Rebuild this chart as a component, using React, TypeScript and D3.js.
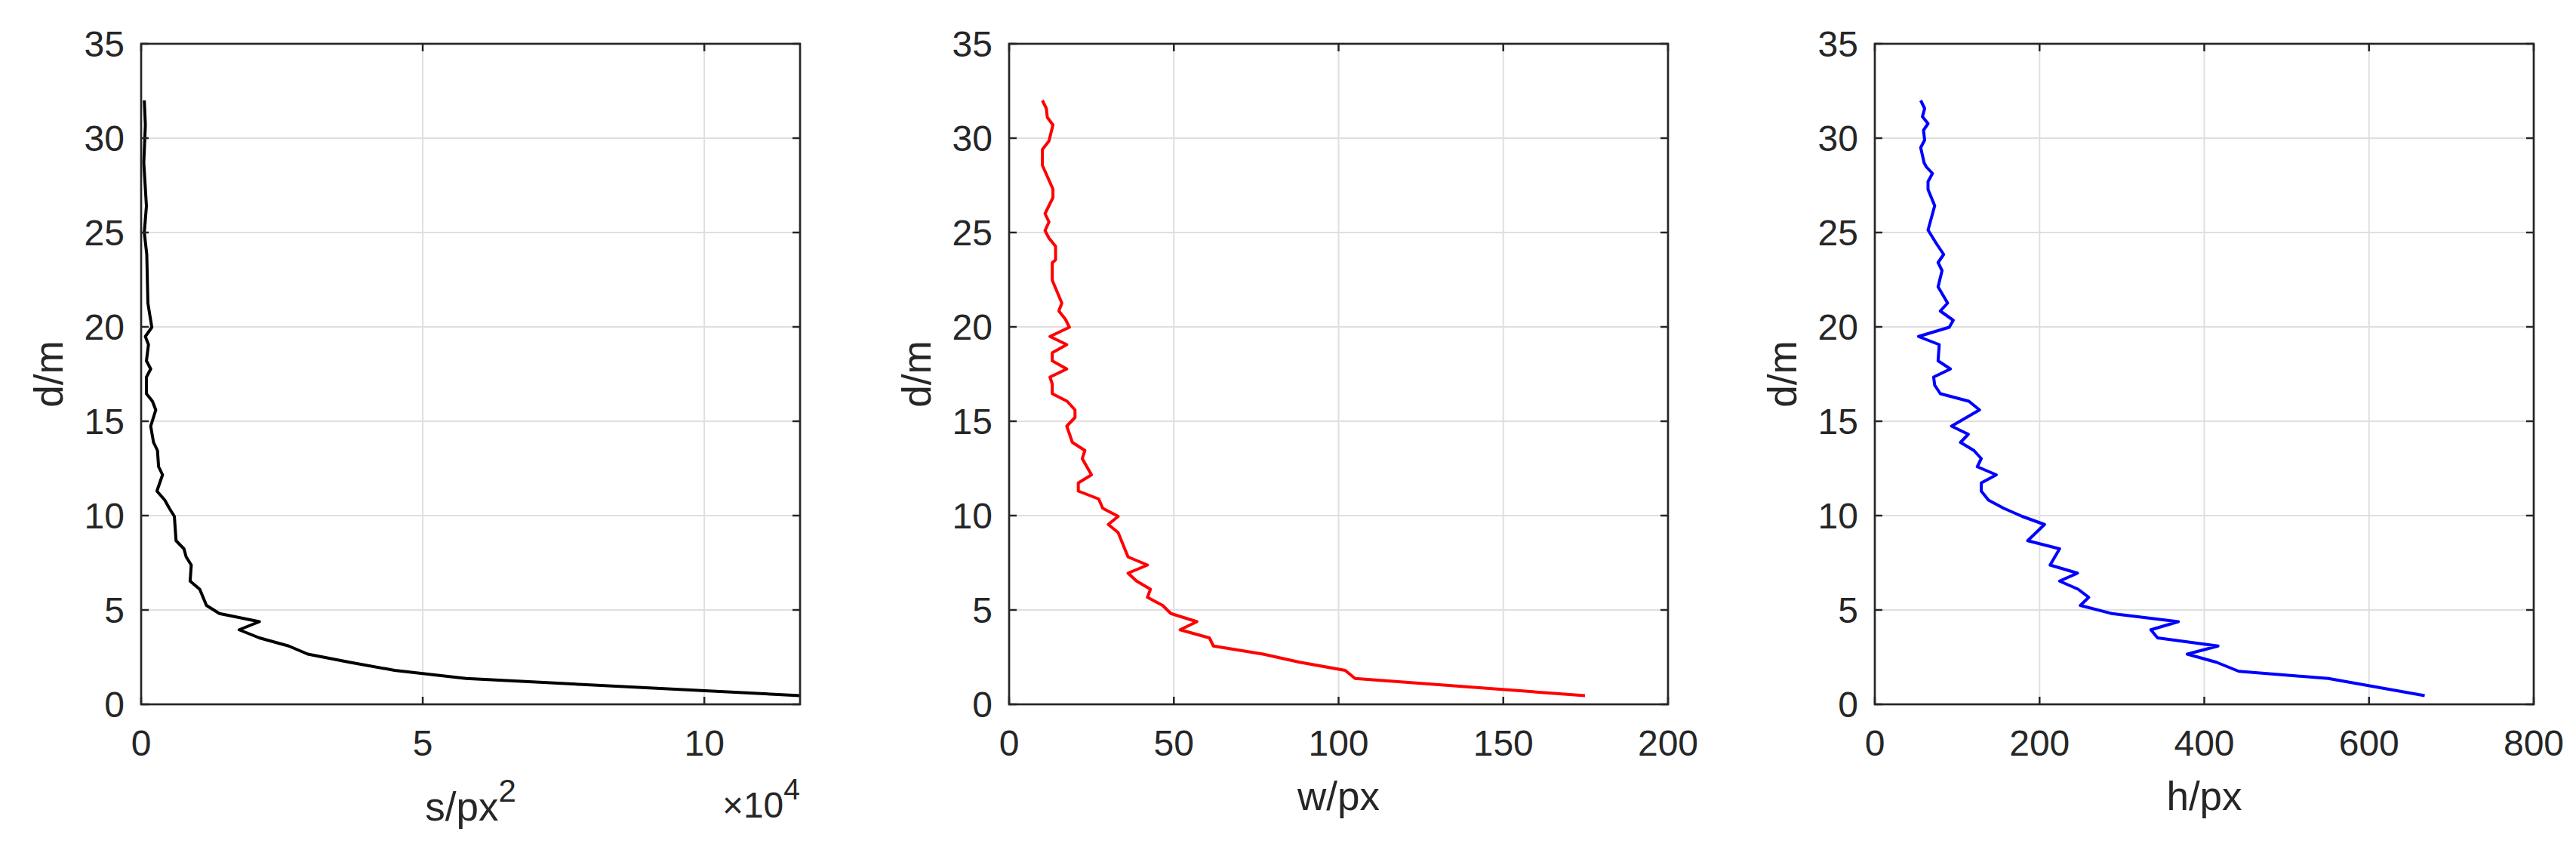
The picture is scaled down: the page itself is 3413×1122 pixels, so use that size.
import React from "react";
import * as d3 from "d3";

// ---------- data ----------
// Panel 1: s (area, in units of 1e4 px^2) vs depth d (m)
const depthS = [32.0, 30.7, 28.7, 26.4, 25.0, 23.84, 21.26, 20.7, 19.98, 19.49, 19.06, 18.2, 17.77, 17.34, 16.46, 16.06, 15.6, 14.74, 13.88, 13.45, 12.59, 12.16, 11.3, 10.82, 10.39, 9.96, 8.67, 8.24, 7.81, 7.38, 6.53, 6.1, 5.24, 4.81, 4.38, 3.95, 3.52, 3.09, 2.66, 2.23, 1.8, 1.37, 0.46];
const areaS = [0.056, 0.075, 0.047, 0.094, 0.056, 0.1, 0.12, 0.15, 0.19, 0.075, 0.13, 0.094, 0.17, 0.094, 0.094, 0.2, 0.26, 0.17, 0.22, 0.29, 0.31, 0.38, 0.28, 0.42, 0.5, 0.59, 0.62, 0.76, 0.8, 0.89, 0.87, 1.04, 1.16, 1.39, 2.1, 1.74, 2.1, 2.62, 2.96, 3.7, 4.5, 5.77, 11.7];

// Panel 2: w (px) vs depth
const depthW = [32.0, 31.57, 31.1, 30.7, 29.85, 29.4, 28.56, 27.3, 26.85, 26.0, 25.56, 25.1, 24.7, 24.27, 23.55, 23.4, 22.47, 21.26, 20.84, 20.4, 19.98, 19.49, 19.06, 18.63, 18.2, 17.77, 17.34, 16.97, 16.46, 16.06, 15.6, 15.2, 14.74, 13.88, 13.45, 13.02, 12.16, 11.73, 11.3, 10.88, 10.39, 9.96, 9.53, 9.1, 7.81, 7.38, 6.95, 6.53, 6.1, 5.67, 5.24, 4.81, 4.38, 3.95, 3.52, 3.09, 2.66, 2.23, 1.8, 1.37, 0.46];
const widthW = [10.1, 11.3, 11.6, 13.3, 12.1, 10.1, 10.1, 13.3, 13.3, 10.9, 12.1, 10.9, 12.1, 14.1, 14.1, 13.1, 13.1, 16.0, 15.1, 17.1, 18.3, 12.4, 17.5, 13.1, 13.1, 17.5, 12.4, 13.1, 13.1, 17.6, 20.0, 20.0, 17.5, 19.2, 23.0, 22.2, 25.0, 21.0, 21.0, 27.2, 28.4, 33.1, 30.1, 33.1, 36.1, 42.0, 36.1, 38.7, 42.9, 42.0, 46.6, 49.1, 57.0, 51.9, 60.8, 62.0, 77.1, 88.2, 102.0, 105.0, 174.8];

// Panel 3: h (px) vs depth
const depthH = [32.0, 31.57, 31.14, 30.77, 30.42, 29.9, 29.5, 28.7, 28.48, 28.13, 27.7, 27.28, 26.42, 25.13, 24.41, 23.84, 23.41, 22.98, 22.12, 21.26, 20.84, 20.35, 19.98, 19.49, 19.06, 18.2, 17.77, 17.34, 16.91, 16.46, 16.06, 15.6, 14.74, 14.31, 13.88, 13.45, 13.02, 12.59, 12.16, 11.73, 11.3, 10.82, 10.39, 9.96, 9.53, 8.67, 8.24, 7.38, 6.95, 6.53, 6.1, 5.67, 5.24, 4.81, 4.38, 3.95, 3.52, 3.09, 2.66, 2.23, 1.75, 1.37, 0.46];
const heightH = [55.7, 60.5, 57.8, 64.6, 59.1, 60.5, 55.7, 59.8, 62.5, 70.0, 64.6, 64.6, 72.7, 64.6, 74.8, 83.6, 76.8, 81.6, 76.8, 88.4, 79.5, 95.2, 90.4, 53.0, 78.2, 76.8, 91.8, 71.4, 72.7, 79.5, 114.2, 127.1, 93.1, 113.5, 104.0, 120.3, 129.2, 124.4, 147.5, 129.2, 129.2, 138.0, 156.4, 178.8, 206.0, 185.6, 224.3, 212.8, 246.1, 224.3, 246.8, 259.7, 249.5, 287.6, 368.5, 335.1, 343.3, 416.7, 379.3, 414.7, 441.9, 550.6, 667.6];

const depthTicks = [0, 5, 10, 15, 20, 25, 30, 35];
const sTicks = [0, 5, 10];
const wTicks = [0, 50, 100, 150, 200];
const hTicks = [0, 200, 400, 600, 800];

// ---------- layout ----------
const W = 3413;
const H = 1122;
const TOP = 58;
const BOTTOM = 933;
const PW = 873;
const FONT = "'Liberation Sans', Arial, Helvetica, sans-serif";
const TXT = "#262626";

type PanelProps = {
  left: number;
  xMax: number;
  xTicks: number[];
  depth: number[];
  values: number[];
  color: string;
  xLabel: React.ReactNode;
  extra?: React.ReactNode;
};

function Panel({ left, xMax, xTicks, depth, values, color, xLabel, extra }: PanelProps) {
  const x = d3.scaleLinear().domain([0, xMax]).range([left, left + PW]);
  const y = d3.scaleLinear().domain([0, 35]).range([BOTTOM, TOP]);
  const pts: [number, number][] = values.map((v, i) => [v, depth[i]]);
  const line = d3
    .line<[number, number]>()
    .x((p) => x(p[0]))
    .y((p) => y(p[1]));
  const right = left + PW;
  const tickLen = 10;
  return (
    <g>
      {/* grid */}
      {xTicks.map((t) => (
        <line key={"gx" + t} x1={x(t)} x2={x(t)} y1={TOP} y2={BOTTOM} stroke="#dfdfdf" strokeWidth={2} />
      ))}
      {depthTicks.map((t) => (
        <line key={"gy" + t} x1={left} x2={right} y1={y(t)} y2={y(t)} stroke="#dfdfdf" strokeWidth={2} />
      ))}
      {/* data */}
      <path d={line(pts) || ""} fill="none" stroke={color} strokeWidth={4} strokeLinejoin="round" />
      {/* ticks */}
      {xTicks.map((t) => (
        <g key={"tx" + t}>
          <line x1={x(t)} x2={x(t)} y1={BOTTOM} y2={BOTTOM - tickLen} stroke={TXT} strokeWidth={2.5} />
          <line x1={x(t)} x2={x(t)} y1={TOP} y2={TOP + tickLen} stroke={TXT} strokeWidth={2.5} />
          <text x={x(t)} y={BOTTOM + 68} textAnchor="middle" fontFamily={FONT} fontSize={48} fill={TXT}>
            {t}
          </text>
        </g>
      ))}
      {depthTicks.map((t) => (
        <g key={"ty" + t}>
          <line x1={left} x2={left + tickLen} y1={y(t)} y2={y(t)} stroke={TXT} strokeWidth={2.5} />
          <line x1={right} x2={right - tickLen} y1={y(t)} y2={y(t)} stroke={TXT} strokeWidth={2.5} />
          <text x={left - 22} y={y(t) + 17} textAnchor="end" fontFamily={FONT} fontSize={48} fill={TXT}>
            {t}
          </text>
        </g>
      ))}
      {/* box */}
      <rect x={left} y={TOP} width={PW} height={BOTTOM - TOP} fill="none" stroke={TXT} strokeWidth={2.7} />
      {/* labels */}
      <text
        transform={`translate(${left - 104},${(TOP + BOTTOM) / 2}) rotate(-90)`}
        textAnchor="middle"
        fontFamily={FONT}
        fontSize={53}
        fill={TXT}
      >
        d/m
      </text>
      {xLabel}
      {extra}
    </g>
  );
}

export default function App() {
  const L1 = 187;
  const L2 = 1337;
  const L3 = 2484;
  return (
    <svg
      width={W}
      height={H}
      viewBox={`0 0 ${W} ${H}`}
      style={{ position: "absolute", left: 0, top: 0, background: "#fff" }}
    >
      <rect x={0} y={0} width={W} height={H} fill="#fff" />
      <Panel
        left={L1}
        xMax={11.7}
        xTicks={sTicks}
        depth={depthS}
        values={areaS}
        color="#000000"
        xLabel={
          <text x={L1 + PW / 2} y={1087} textAnchor="middle" fontFamily={FONT} fontSize={53} fill={TXT}>
            s/px
            <tspan fontSize={42} dy={-25}>2</tspan>
          </text>
        }
        extra={
          <text x={L1 + PW} y={1083} textAnchor="end" fontFamily={FONT} fontSize={48} fill={TXT}>
            ×10
            <tspan fontSize={39} dy={-24}>4</tspan>
          </text>
        }
      />
      <Panel
        left={L2}
        xMax={200}
        xTicks={wTicks}
        depth={depthW}
        values={widthW}
        color="#ff0000"
        xLabel={
          <text x={L2 + PW / 2} y={1073} textAnchor="middle" fontFamily={FONT} fontSize={53} fill={TXT}>
            w/px
          </text>
        }
      />
      <Panel
        left={L3}
        xMax={800}
        xTicks={hTicks}
        depth={depthH}
        values={heightH}
        color="#0000ff"
        xLabel={
          <text x={L3 + PW / 2} y={1073} textAnchor="middle" fontFamily={FONT} fontSize={53} fill={TXT}>
            h/px
          </text>
        }
      />
    </svg>
  );
}
